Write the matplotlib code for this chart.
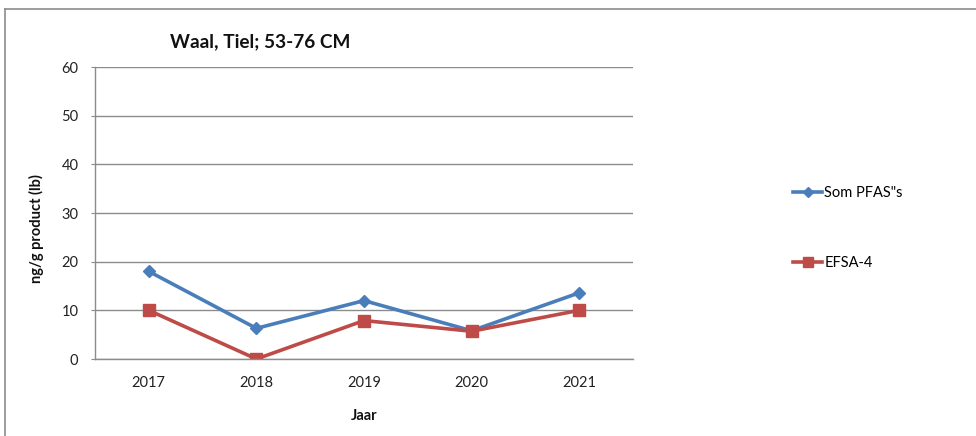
import matplotlib
matplotlib.use("Agg")
import matplotlib.pyplot as plt
from matplotlib.lines import Line2D

plt.rcParams['font.family'] = ['Lato', 'DejaVu Sans']

years = ["2017", "2018", "2019", "2020", "2021"]
som_pfas = [18.0, 6.3, 12.0, 5.8, 13.6]
efsa4 = [10.0, 0.0, 7.9, 5.7, 10.0]
y_ticks = [0, 10, 20, 30, 40, 50, 60]

title = "Waal, Tiel; 53-76 CM"
xlabel = "Jaar"
ylabel = "ng/g product (lb)"
series_names = ['Som PFAS"s', "EFSA-4"]

W, H = 976, 436
fig = plt.figure(figsize=(W / 100, H / 100), dpi=100)
ax = fig.add_axes([95 / W, 1 - 359 / H, (633 - 95) / W, (359 - 67) / H])

x = list(range(len(years)))
ax.plot(x, som_pfas, color="#4A7EBB", lw=2.6, marker="D", ms=6.5,
        label=series_names[0], solid_joinstyle="round")
ax.plot(x, efsa4, color="#BE4B48", lw=2.6, marker="s", ms=8,
        label=series_names[1], solid_joinstyle="round")

ax.set_xlim(-0.5, len(years) - 0.5)
ax.set_ylim(0, 60)
ax.set_yticks(y_ticks)
ax.set_xticks(x)
ax.set_xticklabels(years)
ax.yaxis.grid(True, color="#8C8C8C", lw=1.0)
ax.set_axisbelow(True)
for s in ["top", "right"]:
    ax.spines[s].set_visible(False)
for s in ["left", "bottom"]:
    ax.spines[s].set_color("#8C8C8C")
    ax.spines[s].set_linewidth(1.0)
ax.tick_params(axis="y", length=3, color="#8C8C8C", pad=9, labelsize=10.5, labelcolor="#222222")
ax.tick_params(axis="x", length=0, pad=12, labelsize=10.5, labelcolor="#222222")

ax.set_xlabel(xlabel, fontsize=10.5, fontweight="bold", labelpad=14, color="#111111")
fig.text(36 / W, 1 - 229 / H, ylabel, rotation=90, ha="center", va="center",
         fontsize=10.5, fontweight="bold", color="#111111")
fig.text(260 / W, 1 - 42 / H, title, ha="center", va="center",
         fontsize=13.7, fontweight="bold", color="#111111")

leg = fig.legend(loc="upper left", bbox_to_anchor=(780 / W, 1 - 173 / H),
                 frameon=False, fontsize=10.5, handlelength=2.0,
                 handletextpad=0.15, labelspacing=3.85, markerscale=0.85)

# outer chart border (top and left visible)
fig.add_artist(Line2D([5 / W, 1.0], [1 - 9 / H, 1 - 9 / H], color="#8C8C8C", lw=1.2,
                      transform=fig.transFigure))
fig.add_artist(Line2D([5 / W, 5 / W], [0, 1 - 9 / H], color="#8C8C8C", lw=1.2,
                      transform=fig.transFigure))

fig.savefig("out.png", dpi=100)
